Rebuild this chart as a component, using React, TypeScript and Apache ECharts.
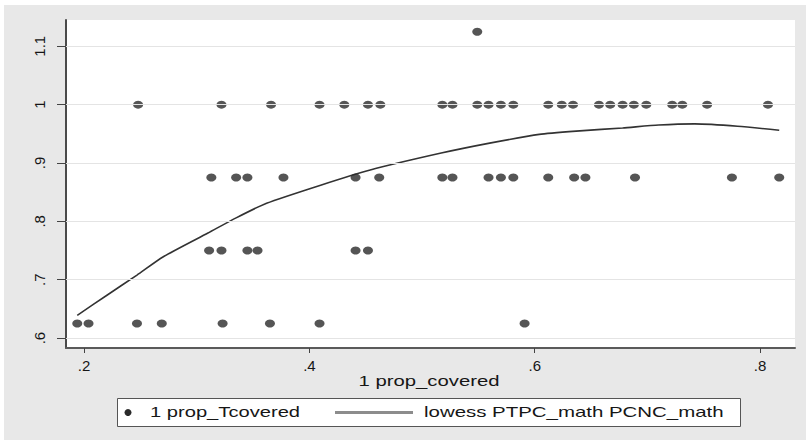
import { useEffect, useRef } from "react";
import * as echarts from "echarts";

// Scatter points grouped by their y level (1 prop_Tcovered)
const xAtY1125 = [0.549];
const xAtY1 = [
  0.248, 0.322, 0.366, 0.409, 0.431, 0.452, 0.463, 0.518, 0.527, 0.549, 0.559,
  0.570, 0.581, 0.612, 0.624, 0.634, 0.657, 0.667, 0.678, 0.688, 0.699, 0.722,
  0.731, 0.753, 0.807,
];
const xAtY0875 = [
  0.313, 0.335, 0.345, 0.377, 0.441, 0.462, 0.518, 0.527, 0.559, 0.570, 0.581,
  0.612, 0.635, 0.645, 0.689, 0.775, 0.817,
];
const xAtY075 = [0.311, 0.322, 0.345, 0.354, 0.441, 0.452];
const xAtY0625 = [0.194, 0.204, 0.247, 0.269, 0.323, 0.365, 0.409, 0.591];
const yLevels = [1.125, 1, 0.875, 0.75, 0.625];

// lowess PTPC_math PCNC_math
const lowessX = [
  0.194, 0.22, 0.247, 0.27, 0.31, 0.335, 0.362, 0.41, 0.454, 0.517, 0.56, 0.604,
  0.64, 0.678, 0.71, 0.742, 0.78, 0.817,
];
const lowessY = [
  0.639, 0.673, 0.708, 0.739, 0.78, 0.806, 0.831, 0.862, 0.888, 0.917, 0.934,
  0.949, 0.955, 0.96, 0.965, 0.967, 0.963, 0.956,
];

const xTicks = [0.2, 0.4, 0.6, 0.8];
const xTickLabels = [".2", ".4", ".6", ".8"];
const yTicks = [0.6, 0.7, 0.8, 0.9, 1.0, 1.1];
const yTickLabels = [".6", ".7", ".8", ".9", "1", "1.1"];

const xTitle = "1 prop_covered";
const legendScatter = "1 prop_Tcovered";
const legendLine = "lowess PTPC_math PCNC_math";

const FONT = "Liberation Sans, Arial, sans-serif";
const TXT = "#161616";

function labelFor(v: number, ticks: number[], labels: string[]) {
  const i = ticks.findIndex((t) => Math.abs(t - v) < 1e-6);
  return i >= 0 ? labels[i] : "";
}

export default function App() {
  const ref = useRef<HTMLDivElement>(null);
  useEffect(() => {
    document.body.style.margin = "0";
    if (!ref.current) return;
    const chart = echarts.init(ref.current, null, { renderer: "svg" });
    const rows = [xAtY1125, xAtY1, xAtY0875, xAtY075, xAtY0625];
    const scatterData: number[][] = [];
    rows.forEach((xs, i) => xs.forEach((x) => scatterData.push([x, yLevels[i]])));
    const lineData = lowessX.map((x, i) => [x, lowessY[i]]);

    chart.setOption({
      animation: false,
      backgroundColor: "#ffffff",
      grid: {
        left: 66,
        right: 14,
        top: 20,
        bottom: 95,
        show: true,
        backgroundColor: "#ffffff",
        borderWidth: 0,
        outerBoundsMode: "none",
      },
      xAxis: {
        type: "value",
        min: 0.184,
        max: 0.831,
        axisLine: { show: true, onZero: false, lineStyle: { color: "#5a5a5a", width: 2 } },
        axisTick: { show: true, length: 5, customValues: xTicks, lineStyle: { color: "#444", width: 1 } },
        axisLabel: {
          show: true,
          customValues: xTicks,
          margin: 10,
          fontSize: 15,
          fontFamily: FONT,
          color: TXT,
          formatter: (v: number) => labelFor(v, xTicks, xTickLabels),
        },
        splitLine: { show: false },
      },
      yAxis: {
        type: "value",
        min: 0.583,
        max: 1.145,
        axisLine: { show: true, onZero: false, lineStyle: { color: "#4a4a4a", width: 2 } },
        axisTick: { show: true, length: 9, customValues: yTicks, lineStyle: { color: "#444", width: 1 } },
        axisLabel: {
          show: true,
          customValues: yTicks,
          rotate: 90,
          margin: 19,
          fontSize: 15,
          fontFamily: FONT,
          color: TXT,
          formatter: (v: number) => labelFor(v, yTicks, yTickLabels),
        },
        splitLine: { show: false },
      },
      graphic: [
        {
          type: "rect",
          z: -10,
          shape: { x: 4, y: 5, width: 802, height: 435 },
          style: { fill: "#e8e8e8" },
          silent: true,
        },
        {
          type: "text",
          x: 429,
          y: 381,
          scaleX: 1.45,
          style: {
            text: xTitle,
            fontSize: 14,
            fontFamily: FONT,
            fill: TXT,
            align: "center",
            verticalAlign: "middle",
          },
        },
        {
          type: "rect",
          shape: { x: 117.5, y: 398.5, width: 623, height: 28 },
          style: { fill: "#ffffff", stroke: "#555", lineWidth: 1 },
        },
        {
          type: "circle",
          shape: { cx: 128, cy: 412.5, r: 3.5 },
          style: { fill: "#2a2a2a" },
        },
        {
          type: "text",
          x: 150,
          y: 412.5,
          scaleX: 1.44,
          style: {
            text: legendScatter,
            fontSize: 14,
            fontFamily: FONT,
            fill: TXT,
            align: "left",
            verticalAlign: "middle",
          },
        },
        {
          type: "line",
          shape: { x1: 335, y1: 412.5, x2: 413, y2: 412.5 },
          style: { stroke: "#8c8c8c", lineWidth: 3 },
        },
        {
          type: "text",
          x: 424,
          y: 412.5,
          scaleX: 1.46,
          style: {
            text: legendLine,
            fontSize: 14,
            fontFamily: FONT,
            fill: TXT,
            align: "left",
            verticalAlign: "middle",
          },
        },
      ],
      series: [
        {
          type: "line",
          data: [],
          z: 1,
          silent: true,
          markLine: {
            silent: true,
            symbol: ["none", "none"],
            label: { show: false },
            lineStyle: { color: "#e4e4e4", width: 1, type: "solid" },
            data: yTicks.map((v) => ({ yAxis: v })),
          },
        },
        {
          type: "line",
          data: lineData,
          z: 2,
          smooth: 0.2,
          showSymbol: false,
          lineStyle: { color: "#333333", width: 1.6 },
        },
        {
          type: "scatter",
          data: scatterData,
          z: 3,
          symbol: "circle",
          symbolSize: [10, 8],
          itemStyle: { color: "#2b2b2b" },
        },
      ],
    });
    return () => chart.dispose();
  }, []);
  return <div ref={ref} style={{ width: 809, height: 443 }} />;
}
